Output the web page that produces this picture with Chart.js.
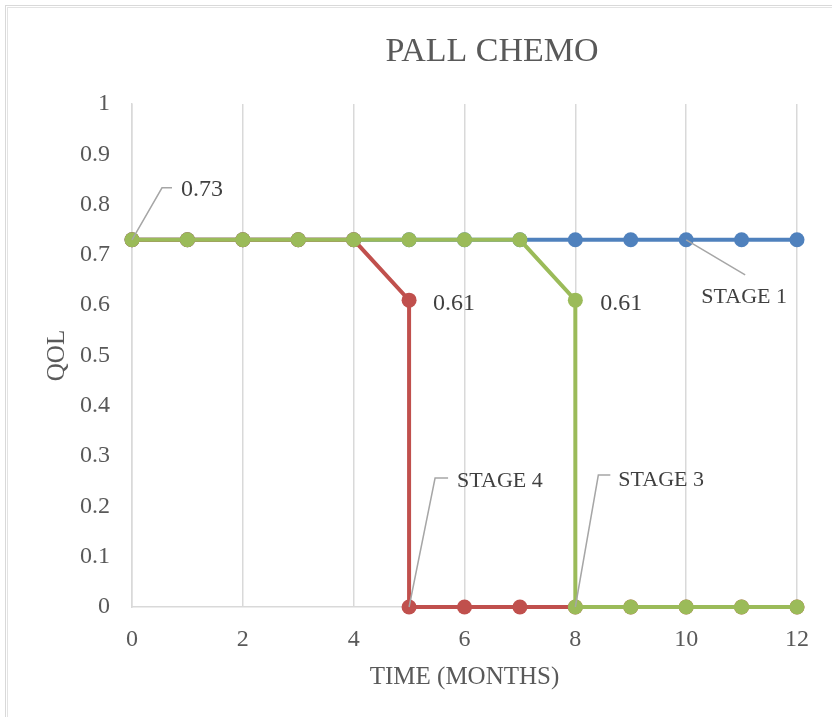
<!DOCTYPE html>
<html>
<head>
<meta charset="utf-8">
<title>PALL CHEMO</title>
<script src="https://cdn.jsdelivr.net/npm/chart.js@4.4.1/dist/chart.umd.min.js"></script>
<style>
    html, body { margin: 0; padding: 0; background: #fff; }
    #wrap { position: relative; width: 832px; height: 717px; overflow: hidden; }
    .frame { position: absolute; border-left: 1px solid #d9d9d9; border-top: 1px solid #d9d9d9; }
    canvas { position: absolute; left: 0; top: 0; }
</style>
</head>
<body>
<div id="wrap">
    <div class="frame" style="left:5px; top:5px; width:840px; height:720px;"></div>
    <div class="frame" style="left:7px; top:7px; width:840px; height:720px; border-color:#e3e3e3;"></div>
    <canvas id="qolChart" width="832" height="717"></canvas>
</div>
<script>
    // QOL over time, palliative chemo
    const stage1Months = [0, 1, 2, 3, 4, 5, 6, 7, 8, 9, 10, 11, 12];
    const stage1Qol = [0.73, 0.73, 0.73, 0.73, 0.73, 0.73, 0.73, 0.73, 0.73, 0.73, 0.73, 0.73, 0.73];

    const stage4Months = [0, 1, 2, 3, 4, 5, 5, 6, 7, 8, 9, 10, 11, 12];
    const stage4Qol = [0.73, 0.73, 0.73, 0.73, 0.73, 0.61, 0, 0, 0, 0, 0, 0, 0, 0];

    const stage3Months = [0, 1, 2, 3, 4, 5, 6, 7, 8, 8, 9, 10, 11, 12];
    const stage3Qol = [0.73, 0.73, 0.73, 0.73, 0.73, 0.73, 0.73, 0.73, 0.61, 0, 0, 0, 0, 0];

    const xTicks = [0, 2, 4, 6, 8, 10, 12];
    const yTicks = [0, 0.1, 0.2, 0.3, 0.4, 0.5, 0.6, 0.7, 0.8, 0.9, 1];

    const FONT = '"Liberation Serif", "DejaVu Serif", serif';
    const TEXT = '#595959';
    const LABEL = '#404040';
    const LEADER = '#a6a6a6';

    function toPoints(xs, ys) {
        return xs.map((x, i) => ({ x: x, y: ys[i] }));
    }

    // order: lower value ends up on top
    function series(label, xs, ys, color, order) {
        return {
            label: label,
            data: toPoints(xs, ys),
            order: order,
            showLine: true,
            borderColor: color,
            backgroundColor: color,
            borderWidth: 4,
            pointRadius: 7.5,
            pointBorderWidth: 0,
            pointBackgroundColor: color
        };
    }

    // labels next to points: dataset, point index, text, leader path (offsets from point), text offset
    const pointNotes = [
        { ds: 2, idx: 0, text: null, path: [[30, -52], [40, -52]], at: [49, -44], align: 'left', size: 24 },
        { ds: 1, idx: 5, text: null, path: null, at: [24, 10], align: 'left', size: 24 },
        { ds: 2, idx: 8, text: null, path: null, at: [25, 10], align: 'left', size: 24 },
        { ds: 0, idx: 10, text: 'STAGE 1', path: [[59, 35]], at: [58, 63], align: 'center', size: 22 },
        { ds: 1, idx: 6, text: 'STAGE 4', path: [[26, -129], [39, -129]], at: [48, -120], align: 'left', size: 22 },
        { ds: 2, idx: 9, text: 'STAGE 3', path: [[23, -132], [35, -132]], at: [43, -121], align: 'left', size: 22 }
    ];

    const notesPlugin = {
        id: 'notes',
        afterDatasetsDraw(chart) {
            const ctx = chart.ctx;
            ctx.save();
            pointNotes.forEach(n => {
                const pt = chart.getDatasetMeta(n.ds).data[n.idx];
                const raw = chart.data.datasets[n.ds].data[n.idx];
                if (n.path) {
                    ctx.beginPath();
                    ctx.strokeStyle = LEADER;
                    ctx.lineWidth = 1.5;
                    ctx.moveTo(pt.x, pt.y);
                    n.path.forEach(p => ctx.lineTo(pt.x + p[0], pt.y + p[1]));
                    ctx.stroke();
                }
                ctx.fillStyle = LABEL;
                ctx.font = n.size + 'px ' + FONT;
                ctx.textAlign = n.align;
                ctx.textBaseline = 'alphabetic';
                const txt = n.text !== null ? n.text : String(raw.y);
                ctx.fillText(txt, pt.x + n.at[0], pt.y + n.at[1]);
            });
            ctx.restore();
        }
    };

    const headingPlugin = {
        id: 'heading',
        afterDraw(chart) {
            const ctx = chart.ctx;
            ctx.save();
            ctx.fillStyle = TEXT;
            ctx.font = '34px ' + FONT;
            ctx.textAlign = 'center';
            ctx.textBaseline = 'alphabetic';
            ctx.fillText('PALL CHEMO', 492, 61);
            ctx.restore();
        }
    };

    const ctx = document.getElementById('qolChart').getContext('2d');
    new Chart(ctx, {
        type: 'scatter',
        data: {
            datasets: [
                series('STAGE 1', stage1Months, stage1Qol, '#4f81bd', 3),
                series('STAGE 4', stage4Months, stage4Qol, '#c0504d', 2),
                series('STAGE 3', stage3Months, stage3Qol, '#9bbb59', 1)
            ]
        },
        options: {
            responsive: false,
            animation: false,
            events: [],
            clip: false,
            layout: {
                padding: { left: 0, right: 35, top: 104, bottom: 0 }
            },
            plugins: {
                legend: { display: false },
                tooltip: { enabled: false }
            },
            scales: {
                x: {
                    type: 'linear',
                    min: 0,
                    max: 12,
                    afterBuildTicks: scale => { scale.ticks = xTicks.map(v => ({ value: v })); },
                    afterFit: scale => { scale.height = 110; },
                    grid: { color: '#d9d9d9', lineWidth: 1.5, drawTicks: false },
                    border: { color: '#d9d9d9', width: 1.5 },
                    ticks: { color: TEXT, font: { family: FONT, size: 24 }, padding: 18 },
                    title: {
                        display: true,
                        text: 'TIME (MONTHS)',
                        color: TEXT,
                        font: { family: FONT, size: 25 },
                        padding: { top: 0, bottom: 25 }
                    }
                },
                y: {
                    type: 'linear',
                    min: 0,
                    max: 1,
                    afterBuildTicks: scale => { scale.ticks = yTicks.map(v => ({ value: v })); },
                    afterFit: scale => { scale.width = 132; },
                    grid: { display: false, drawTicks: false },
                    border: { display: true, color: '#d9d9d9', width: 1.5 },
                    ticks: {
                        color: TEXT,
                        font: { family: FONT, size: 24 },
                        padding: 22,
                        callback: v => String(+v.toFixed(1))
                    },
                    title: {
                        display: true,
                        text: 'QOL',
                        color: TEXT,
                        font: { family: FONT, size: 25 },
                        padding: { top: 42, bottom: 0 }
                    }
                }
            }
        },
        plugins: [notesPlugin, headingPlugin]
    });
</script>
</body>
</html>
